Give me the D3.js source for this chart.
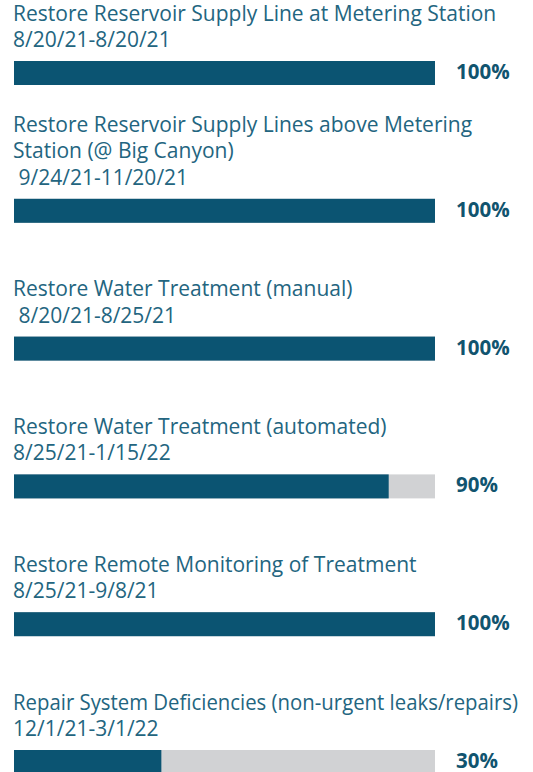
<!DOCTYPE html>
<html>
<head>
<meta charset="utf-8">
<script src="https://cdn.jsdelivr.net/npm/d3@7"></script>
<style>
  html, body { margin: 0; padding: 0; background: #fff; }
  svg { display: block; }
  .title { font-family: "Open Sans", sans-serif; font-size: 21px; fill: #236580; white-space: pre; }
  .pct { font-family: "Open Sans", sans-serif; font-size: 20.5px; font-weight: 700; fill: #11546f; }
</style>
</head>
<body>
<script>
// task names, split in the lines they wrap to
var tasks = [
    ['Restore Reservoir Supply Line at Metering Station', '8/20/21-8/20/21'],
    ['Restore Reservoir Supply Lines above Metering', 'Station (@ Big Canyon)', ' 9/24/21-11/20/21'],
    ['Restore Water Treatment (manual)', ' 8/20/21-8/25/21'],
    ['Restore Water Treatment (automated)', '8/25/21-1/15/22'],
    ['Restore Remote Monitoring of Treatment', '8/25/21-9/8/21'],
    ['Repair System Deficiencies (non-urgent leaks/repairs)', '12/1/21-3/1/22']
];

// percent complete as labelled
var percentLabels = [100, 100, 100, 90, 100, 30];

// filled length of each bar as drawn (percent of full track)
var barFill = [100, 100, 100, 89, 100, 35];

var width = 533;
var height = 772;
var barHeight = 24;
var lineHeight = 26.5;
var maxTextWidth = 505;

var svg = d3.select('body').append('svg')
    .attr('width', width)
    .attr('height', height);

var x = d3.scaleLinear()
    .domain([0, 100])
    .range([14, 435]);

var y = d3.scalePoint()
    .domain(d3.range(tasks.length))
    .range([61, 750]);

var rows = svg.selectAll('g.row')
    .data(tasks)
    .enter()
    .append('g')
    .attr('class', 'row')
    .attr('transform', function(d, i) { return 'translate(0,' + y(i) + ')'; });

// background track
rows.append('rect')
    .attr('x', x(0))
    .attr('y', 0)
    .attr('width', x(100) - x(0))
    .attr('height', barHeight)
    .attr('fill', '#d1d2d4');

// progress
rows.append('rect')
    .attr('x', x(0))
    .attr('y', 0)
    .attr('width', function(d, i) { return x(barFill[i]) - x(0); })
    .attr('height', barHeight)
    .attr('fill', '#0b5472');

rows.append('text')
    .attr('class', 'pct')
    .attr('x', 456)
    .attr('y', 18)
    .text(function(d, i) { return percentLabels[i] + '%'; });

// title lines stacked upwards from the bar
rows.selectAll('text.title')
    .data(function(d) {
        return d.map(function(line, j) { return { line: line, fromBottom: d.length - 1 - j }; });
    })
    .enter()
    .append('text')
    .attr('class', 'title')
    .attr('x', 13)
    .attr('y', function(d) { return -14 - d.fromBottom * lineHeight; })
    .text(function(d) { return d.line; })
    .each(function() {
        // squeeze the long lines so they stay inside the page
        if (this.getComputedTextLength() > maxTextWidth) {
            d3.select(this)
                .attr('textLength', maxTextWidth)
                .attr('lengthAdjust', 'spacingAndGlyphs');
        }
    });
</script>
</body>
</html>
